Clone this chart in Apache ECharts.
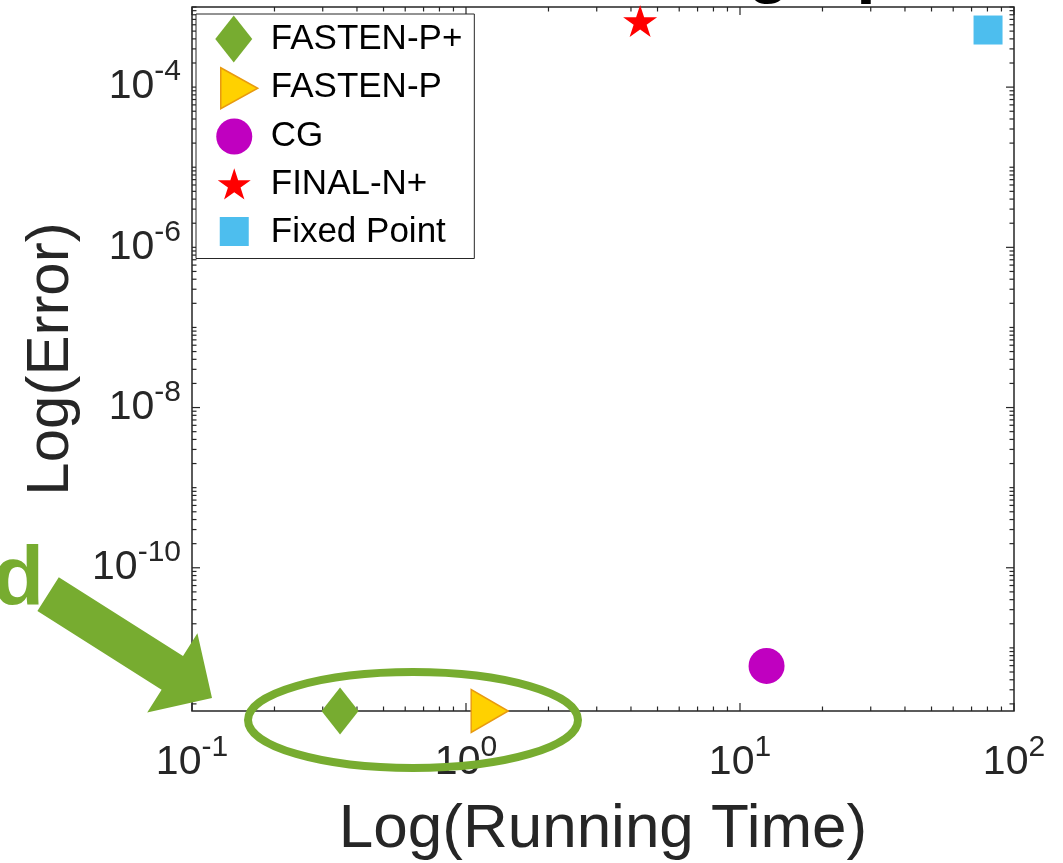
<!DOCTYPE html>
<html>
<head>
<meta charset="utf-8">
<script src="https://cdn.jsdelivr.net/npm/echarts@6/dist/echarts.min.js"></script>
<style>
html, body { margin: 0; padding: 0; background: #ffffff; }
#chart { width: 1063px; height: 863px; }
</style>
</head>
<body>
<div id="chart"></div>
<script>
// Axis extents (log scales)
const xRange = [0.1, 100];
const yRange = [1.63e-12, 1e-3];

// Running time and error reached by each solver
const seriesNames = ['FASTEN-P+', 'FASTEN-P', 'CG', 'FINAL-N+', 'Fixed Point'];
const runningTime = [0.347, 1.22, 12.5, 4.32, 80.4];
const errorValues = [1.63e-12, 1.63e-12, 5.96e-12, 6.68e-4, 5.16e-4];

// Labelled decades on each axis
const xTickExponents = [-1, 0, 1, 2];
const yTickExponents = [-10, -8, -6, -4];

const FONT = "'Liberation Sans', Arial, Helvetica, sans-serif";
const AXIS_COLOR = '#262626';
const GREEN = '#77AC30';

// Marker styles per solver
const markerStyles = [
  { symbol: 'diamond', symbolSize: [37, 47], symbolRotate: 0, itemStyle: { color: GREEN } },
  { symbol: 'triangle', symbolSize: [43, 37], symbolRotate: -90, itemStyle: { color: '#FFD100', borderColor: '#E89A10', borderWidth: 1.5 } },
  { symbol: 'circle', symbolSize: 36, symbolRotate: 0, itemStyle: { color: '#C000C0' } },
  { symbol: 'path://M0,-1L0.2245,-0.309L0.951,-0.309L0.363,0.118L0.588,0.809L0,0.382L-0.588,0.809L-0.363,0.118L-0.951,-0.309L-0.2245,-0.309Z',
    symbolSize: [34, 32], symbolRotate: 0, itemStyle: { color: '#FF0000' } },
  { symbol: 'rect', symbolSize: 29, symbolRotate: 0, itemStyle: { color: '#4DBEEE' } }
];

// Legend glyphs drawn inside a fixed 52x48 cell so every icon keeps its own size
const CELL = 'path://M0,0M52,48';
const legendIcons = [
  CELL + 'M20,0.5L38.5,24L20,47.5L1.5,24Z',
  CELL + 'M7,4L44,24.5L7,45Z',
  CELL + 'M2.5,24a18,18 0 1,0 36,0a18,18 0 1,0 -36,0Z',
  CELL + 'M20.5,7.65L24.4,19.64L37,19.64L26.8,27.05L30.7,39.04L20.5,31.63L10.3,39.04L14.2,27.05L4,19.64L16.6,19.64Z',
  CELL + 'M6,8.5h29v29h-29Z'
];

// MATLAB-style log ticks: long at labelled decades, short at 2..9 and unlabelled decades
const MAJOR = 8, MINOR = 4.5;
const tickRows = [];
for (let n = -1; n <= 2; n++) {
  tickRows.push([Math.pow(10, n), yRange[1], 0, MAJOR]);
  if (n < 2) for (let k = 2; k <= 9; k++) tickRows.push([k * Math.pow(10, n), yRange[1], 0, MINOR]);
}
for (let n = -12; n <= -3; n++) {
  for (let k = 1; k <= 9; k++) {
    const v = k * Math.pow(10, n);
    if (v < yRange[0] || v > yRange[1]) continue;
    const isMajor = k === 1 && yTickExponents.indexOf(n) >= 0;
    tickRows.push([xRange[0], v, 1, isMajor ? MAJOR : MINOR]);
  }
}

function renderTick(params, api) {
  const cs = params.coordSys;
  const dir = api.value(2);
  const len = api.value(3);
  const style = { stroke: AXIS_COLOR, lineWidth: 1.2 };
  if (dir === 0) {
    const px = api.coord([api.value(0), yRange[1]])[0];
    return { type: 'group', children: [
      { type: 'line', shape: { x1: px, y1: cs.y + cs.height, x2: px, y2: cs.y + cs.height - len }, style: style },
      { type: 'line', shape: { x1: px, y1: cs.y, x2: px, y2: cs.y + len }, style: style }
    ] };
  }
  const py = api.coord([xRange[0], api.value(1)])[1];
  return { type: 'group', children: [
    { type: 'line', shape: { x1: cs.x, y1: py, x2: cs.x + len, y2: py }, style: style },
    { type: 'line', shape: { x1: cs.x + cs.width, y1: py, x2: cs.x + cs.width - len, y2: py }, style: style }
  ] };
}

function powerLabel(allowed) {
  return function (value) {
    const lg = Math.log10(value);
    const e = Math.round(lg);
    if (Math.abs(lg - e) > 1e-6 || allowed.indexOf(e) < 0) return '';
    return '{b|10}{s|' + e + '}';
  };
}

const labelRich = {
  b: { fontSize: 41, fontFamily: FONT, color: AXIS_COLOR, lineHeight: 60 },
  s: { fontSize: 30, fontFamily: FONT, color: AXIS_COLOR, lineHeight: 30, verticalAlign: 'top' }
};

const scatterSeries = seriesNames.map(function (name, i) {
  const m = markerStyles[i];
  return {
    name: name,
    type: 'scatter',
    clip: false,
    z: 3,
    symbol: m.symbol,
    symbolSize: m.symbolSize,
    symbolRotate: m.symbolRotate,
    itemStyle: Object.assign({ opacity: 1 }, m.itemStyle),
    emphasis: { disabled: true },
    data: [[runningTime[i], errorValues[i]]]
  };
});

const chart = echarts.init(document.getElementById('chart'), null, { renderer: 'canvas' });

chart.setOption({
  animation: false,
  backgroundColor: '#ffffff',
  grid: {
    left: 192, right: 49, top: 7, bottom: 152,
    show: true, borderColor: AXIS_COLOR, borderWidth: 1.5, backgroundColor: '#ffffff',
    containLabel: false, outerBoundsMode: 'none'
  },
  xAxis: {
    type: 'log', logBase: 10, min: xRange[0], max: xRange[1],
    axisLine: { show: false }, axisTick: { show: false }, splitLine: { show: false }, minorTick: { show: false },
    axisLabel: { margin: 22, showMinLabel: true, showMaxLabel: true, formatter: powerLabel(xTickExponents), rich: labelRich },
    name: 'Log(Running Time)', nameLocation: 'middle', nameGap: 88,
    nameTextStyle: { fontSize: 62, fontFamily: FONT, color: AXIS_COLOR }
  },
  yAxis: {
    type: 'log', logBase: 10, min: yRange[0], max: yRange[1],
    axisLine: { show: false }, axisTick: { show: false }, splitLine: { show: false }, minorTick: { show: false },
    axisLabel: { margin: 11, formatter: powerLabel(yTickExponents), rich: labelRich },
    name: 'Log(Error)', nameLocation: 'middle', nameGap: 110,
    nameTextStyle: { fontSize: 60, fontFamily: FONT, color: AXIS_COLOR }
  },
  legend: {
    orient: 'vertical', left: 196, top: 14,
    itemWidth: 52, itemHeight: 48, itemGap: 0,
    padding: [1, 12, 2, 17],
    borderColor: AXIS_COLOR, borderWidth: 1, backgroundColor: '#ffffff',
    selectedMode: false,
    textStyle: { fontSize: 35, fontFamily: FONT, color: '#000000' },
    data: seriesNames.map(function (name, i) {
      return { name: name, icon: legendIcons[i], symbolRotate: 0, itemStyle: Object.assign({ borderWidth: 0 }, markerStyles[i].itemStyle) };
    })
  },
  series: [{
    type: 'custom',
    silent: true,
    z: 1,
    clip: false,
    renderItem: renderTick,
    dimensions: ['x', 'y', 'dir', 'len'],
    encode: { x: 0, y: 1 },
    data: tickRows
  }].concat(scatterSeries),
  graphic: [
    // Title sits above the canvas edge; only its descenders reach the page
    { type: 'text', x: 370, y: -30, z: 10,
      style: { text: 'Real-world graph', font: 'bold 70px ' + FONT, fill: '#000000', textAlign: 'left', textVerticalAlign: 'middle' } },
    // Call-out word on the left margin
    { type: 'text', x: 44, y: 624, z: 10,
      style: { text: 'Proposed', font: 'bold 84px ' + FONT, fill: GREEN, textAlign: 'right', textVerticalAlign: 'bottom' } },
    // Arrow pointing at the proposed methods
    { type: 'polygon', z: 10,
      shape: { points: [[58.8, 577.3], [183, 656], [197.4, 633.2], [212, 698], [147.2, 712.6], [161.6, 689.8], [37.4, 611.1]] },
      style: { fill: GREEN } },
    // Ring around the two FASTEN variants
    { type: 'ellipse', z: 10,
      shape: { cx: 413, cy: 720, rx: 165, ry: 48 },
      style: { fill: null, stroke: GREEN, lineWidth: 8 } }
  ]
});
</script>
</body>
</html>
